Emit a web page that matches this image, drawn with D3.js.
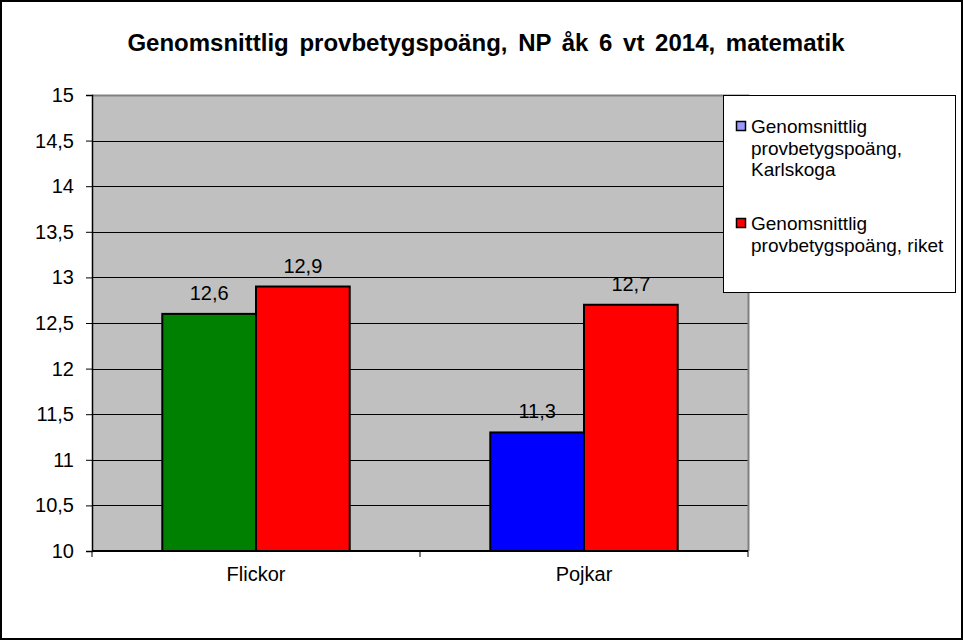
<!DOCTYPE html>
<html>
<head>
<meta charset="utf-8">
<script src="https://cdn.jsdelivr.net/npm/d3@7"></script>
<style>
  body { margin: 0; background: #fff; }
  svg { display: block; font-family: Arial, "Liberation Sans", sans-serif; }
</style>
</head>
<body>
<svg id="chart" width="963" height="640"></svg>
<script>
// data
let categories = ["Flickor", "Pojkar"];
let seriesNames = ["Genomsnittlig provbetygspoäng, Karlskoga", "Genomsnittlig provbetygspoäng, riket"];
let karlskoga = [12.6, 11.3];
let riket = [12.9, 12.7];
let pointColors = [["#008000", "#0000FF"], ["#FF0000", "#FF0000"]];
let legendColors = ["#9999FF", "#FF0000"];
let legendLines = [["Genomsnittlig", "provbetygspoäng,", "Karlskoga"], ["Genomsnittlig", "provbetygspoäng, riket"]];
let yTicks = [10, 10.5, 11, 11.5, 12, 12.5, 13, 13.5, 14, 14.5, 15];
let title = "Genomsnittlig provbetygspoäng, NP åk 6 vt 2014, matematik";

let svg = d3.select("#chart");
let plot = {left: 92, right: 748, top: 95, bottom: 551};
let fmt = function(v){ return String(v).replace(".", ","); };

// outer border
svg.append("rect")
   .attr("x", 1).attr("y", 1)
   .attr("width", 961).attr("height", 638)
   .attr("fill", "#fff").attr("stroke", "#000").attr("stroke-width", 2);

let x = d3.scaleBand().domain(categories).range([plot.left, plot.right]);
let y = d3.scaleLinear().domain([10, 15]).range([plot.bottom, plot.top]);
let barW = x.bandwidth() / 3.5;

// plot background
svg.append("rect")
   .attr("x", plot.left).attr("y", plot.top)
   .attr("width", plot.right - plot.left).attr("height", plot.bottom - plot.top)
   .attr("fill", "#C0C0C0");

// gridlines
svg.append("g")
   .selectAll("line")
   .data(yTicks.slice(1, -1))
   .enter()
   .append("line")
   .attr("x1", plot.left).attr("x2", plot.right)
   .attr("y1", d => Math.round(y(d)) + 0.5).attr("y2", d => Math.round(y(d)) + 0.5)
   .attr("stroke", "#000").attr("stroke-width", 1);

// top and right border in grey
svg.append("path")
   .attr("d", "M" + plot.left + "," + (plot.top + 0.5) + "H" + (plot.right + 0.5) + "V" + plot.bottom)
   .attr("fill", "none").attr("stroke", "#808080").attr("stroke-width", 2);

// bars
let series = [karlskoga, riket];
series.forEach(function(vals, s){
    svg.append("g")
       .selectAll("rect")
       .data(vals)
       .enter()
       .append("rect")
       .attr("x", (d, i) => x(categories[i]) + x.bandwidth() / 2 - barW + s * barW)
       .attr("y", d => y(d))
       .attr("width", barW)
       .attr("height", d => y(10) - y(d))
       .attr("fill", (d, i) => pointColors[s][i])
       .attr("stroke", "#000").attr("stroke-width", 2);

    svg.append("g")
       .selectAll("text")
       .data(vals)
       .enter()
       .append("text")
       .attr("x", (d, i) => x(categories[i]) + x.bandwidth() / 2 - barW / 2 + s * barW)
       .attr("y", d => y(d) - 14)
       .attr("text-anchor", "middle")
       .attr("font-size", 20)
       .text(d => fmt(d));
});

// y axis
let yAxis = d3.axisLeft(y).tickValues(yTicks).tickSize(6).tickPadding(12).tickFormat(fmt);
let gy = svg.append("g").attr("transform", "translate(" + plot.left + ",0)").call(yAxis);
gy.select(".domain").attr("stroke", "#000").attr("stroke-width", 1.5);
gy.selectAll("line").attr("stroke", "#000");
gy.selectAll("text").attr("font-size", 20).attr("font-family", "Arial, 'Liberation Sans', sans-serif").attr("fill", "#000");

// x axis
let xAxis = d3.axisBottom(x).tickSize(0).tickPadding(16);
let gx = svg.append("g").attr("transform", "translate(0," + plot.bottom + ")").call(xAxis);
gx.select(".domain").attr("stroke", "#000").attr("stroke-width", 2).attr("d", "M" + plot.left + ",0H" + plot.right);
gx.selectAll("text").attr("font-size", 20).attr("font-family", "Arial, 'Liberation Sans', sans-serif").attr("fill", "#000");
gx.selectAll(".sep")
  .data([plot.left, (plot.left + plot.right) / 2, plot.right])
  .enter()
  .append("line")
  .attr("x1", d => d).attr("x2", d => d)
  .attr("y1", 0).attr("y2", 6)
  .attr("stroke", "#000");

// title
svg.append("text")
   .attr("x", 486).attr("y", 51)
   .attr("text-anchor", "middle")
   .attr("font-size", 24).attr("font-weight", "bold")
   .attr("word-spacing", 4)
   .text(title);

// legend
let lg = svg.append("g");
lg.append("rect")
  .attr("x", 723.5).attr("y", 95.5)
  .attr("width", 232).attr("height", 197)
  .attr("fill", "#fff").attr("stroke", "#000").attr("stroke-width", 1);
let legendTop = [133, 230];
seriesNames.forEach(function(name, s){
    lg.append("rect")
      .attr("x", 736.5).attr("y", legendTop[s] - 11.5)
      .attr("width", 9).attr("height", 9)
      .attr("fill", legendColors[s]).attr("stroke", "#000").attr("stroke-width", 1.5);
    lg.append("text")
      .attr("font-size", 19)
      .selectAll("tspan")
      .data(legendLines[s])
      .enter()
      .append("tspan")
      .attr("x", 751)
      .attr("y", (d, i) => legendTop[s] + i * 21.5)
      .text(d => d);
});
</script>
</body>
</html>
